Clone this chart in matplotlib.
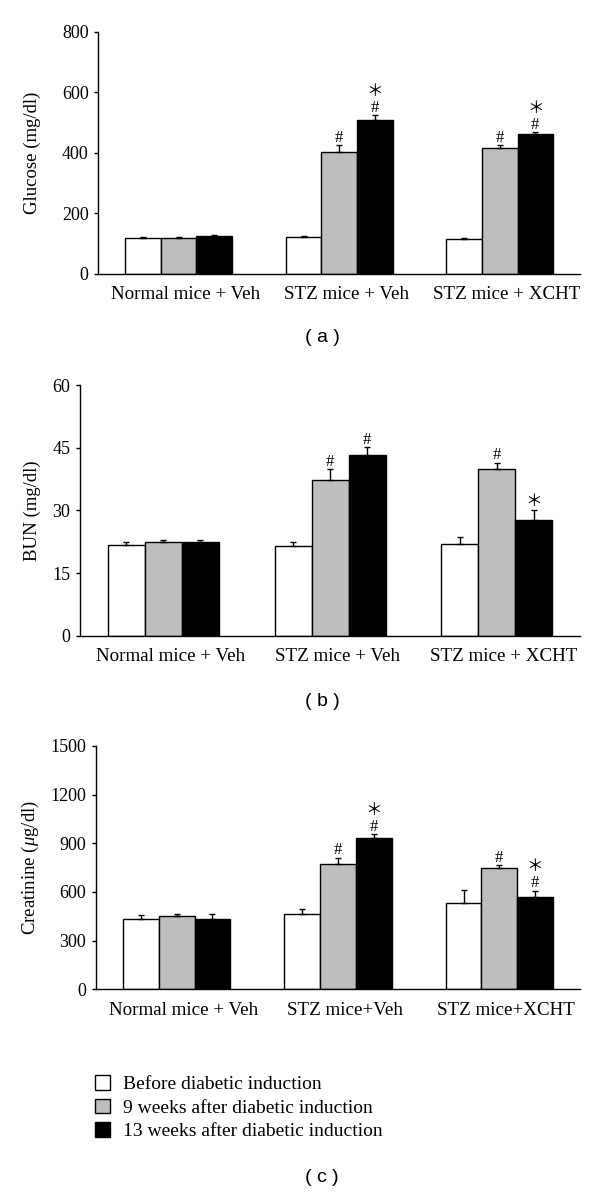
import numpy as np
import matplotlib
matplotlib.use('Agg')
import matplotlib.pyplot as plt
import matplotlib.patches as mpatches
import matplotlib.transforms as mtransforms

plt.rcParams['font.family'] = ['Liberation Serif', 'DejaVu Serif']
plt.rcParams['mathtext.fontset'] = 'custom'
plt.rcParams['mathtext.rm'] = 'Liberation Serif'
plt.rcParams['mathtext.it'] = 'Liberation Serif:italic'

# ── data ─────────────────────────────────────────────
groups_ab = ['Normal mice + Veh', 'STZ mice + Veh', 'STZ mice + XCHT']
groups_c = ['Normal mice + Veh', 'STZ mice+Veh', 'STZ mice+XCHT']
series = ['Before diabetic induction', '9 weeks after diabetic induction',
          '13 weeks after diabetic induction']

glucose_before = [118, 120, 115]
glucose_9wk = [119, 401, 415]
glucose_13wk = [125, 509, 462]
glucose_err_before = [3, 3, 3]
glucose_err_9wk = [3, 25, 10]
glucose_err_13wk = [3, 15, 7]
glucose_marks_9wk = ['', '#', '#']
glucose_marks_13wk = ['', '#*', '#*']

bun_before = [21.8, 21.4, 22.0]
bun_9wk = [22.4, 37.2, 39.9]
bun_13wk = [22.4, 43.2, 27.7]
bun_err_before = [0.6, 1.0, 1.6]
bun_err_9wk = [0.6, 2.6, 1.5]
bun_err_13wk = [0.5, 2.0, 2.5]
bun_marks_9wk = ['', '#', '#']
bun_marks_13wk = ['', '#', '*']

creat_before = [432, 464, 532]
creat_9wk = [454, 771, 750]
creat_13wk = [435, 931, 571]
creat_err_before = [25, 29, 80]
creat_err_9wk = [12, 40, 16]
creat_err_13wk = [28, 24, 37]
creat_marks_9wk = ['', '#', '#']
creat_marks_13wk = ['', '#*', '#*']

COLORS = ['white', '#bebebe', 'black']
BAR_W = 0.222
LABEL_SHIFT = 0.044          # category labels sit slightly right of the groups
MARK_FONT = ['Liberation Serif', 'Noto Sans CJK JP']
RIGHT_PX = 580


def draw_marks(ax, x, top, marks):
    # one text per stack: asterisk (full-width, larger) above the '#'
    if not marks:
        return
    lines = ['\uff0a' if m == '*' else '#' for m in marks]
    ax.annotate('\n'.join(reversed(lines)), (x, top), xytext=(0, -0.5),
                textcoords='offset points', ha='center', va='bottom',
                fontsize=12, family=MARK_FONT, linespacing=1.0,
                multialignment='center')


def panel(ax, labels, vals, errs, marks, ymax, yticks, ylabel):
    x = np.arange(len(labels))
    for i, (v, e) in enumerate(zip(vals, errs)):
        xi = x + (i - 1) * BAR_W
        ax.bar(xi, v, BAR_W, color=COLORS[i], edgecolor='black', linewidth=1.0,
               zorder=2)
        ax.errorbar(xi, v, yerr=[np.zeros(len(e)), e], fmt='none', ecolor='black',
                    elinewidth=1.0, capsize=2.5, capthick=1.0, zorder=3)
        if marks[i] is not None:
            for xx, vv, ee, mm in zip(xi, v, e, marks[i]):
                draw_marks(ax, xx, vv + ee, mm)
    ax.set_xlim(-0.5, 2.5)
    ax.set_ylim(0, ymax)
    ax.set_yticks(yticks)
    ax.set_xticks(x + LABEL_SHIFT)
    ax.set_xticklabels(labels, fontsize=13.7)
    ax.tick_params(axis='x', length=0, pad=9)
    ax.tick_params(axis='y', direction='out', length=3, width=1, labelsize=13,
                   pad=4)
    ax.set_ylabel(ylabel, fontsize=13.5)
    trans = mtransforms.blended_transform_factory(ax.figure.transFigure,
                                                  ax.transAxes)
    ax.yaxis.set_label_coords(41 / 600, 0.5, transform=trans)
    for s in ['top', 'right']:
        ax.spines[s].set_visible(False)
    for s in ['left', 'bottom']:
        ax.spines[s].set_linewidth(1.0)


def axes_rect(left_px, top_px, bottom_px):
    return [left_px / 600, 1 - bottom_px / 1193,
            (RIGHT_PX - left_px) / 600, (bottom_px - top_px) / 1193]


fig = plt.figure(figsize=(6, 11.93), dpi=100)

ax_a = fig.add_axes(axes_rect(98.3, 32, 273.5))
panel(ax_a, groups_ab,
      [glucose_before, glucose_9wk, glucose_13wk],
      [glucose_err_before, glucose_err_9wk, glucose_err_13wk],
      [None, glucose_marks_9wk, glucose_marks_13wk],
      800, [0, 200, 400, 600, 800], 'Glucose (mg/dl)')

ax_b = fig.add_axes(axes_rect(80, 385, 635.7))
panel(ax_b, groups_ab,
      [bun_before, bun_9wk, bun_13wk],
      [bun_err_before, bun_err_9wk, bun_err_13wk],
      [None, bun_marks_9wk, bun_marks_13wk],
      60, [0, 15, 30, 45, 60], 'BUN (mg/dl)')

ax_c = fig.add_axes(axes_rect(96, 746, 989.3))
panel(ax_c, groups_c,
      [creat_before, creat_9wk, creat_13wk],
      [creat_err_before, creat_err_9wk, creat_err_13wk],
      [None, creat_marks_9wk, creat_marks_13wk],
      1500, [0, 300, 600, 900, 1200, 1500], 'Creatinine ($\\mu$g/dl)')

# panel tags
for lbl, ypx in [('( a )', 337), ('( b )', 702), ('( c )', 1177)]:
    fig.text(322 / 600, 1 - ypx / 1193, lbl, ha='center', va='center',
             fontsize=14, family='Liberation Sans')

handles = [mpatches.Patch(facecolor=c, edgecolor='black', linewidth=1.0, label=s)
           for c, s in zip(COLORS, series)]
fig.legend(handles=handles, loc='upper left', bbox_to_anchor=(0.158, 0.0989),
           frameon=False, fontsize=14, handlelength=0.77, handleheight=0.77,
           handletextpad=0.67, labelspacing=0.29, borderpad=0, borderaxespad=0)

fig.savefig('out.png', dpi=100)
